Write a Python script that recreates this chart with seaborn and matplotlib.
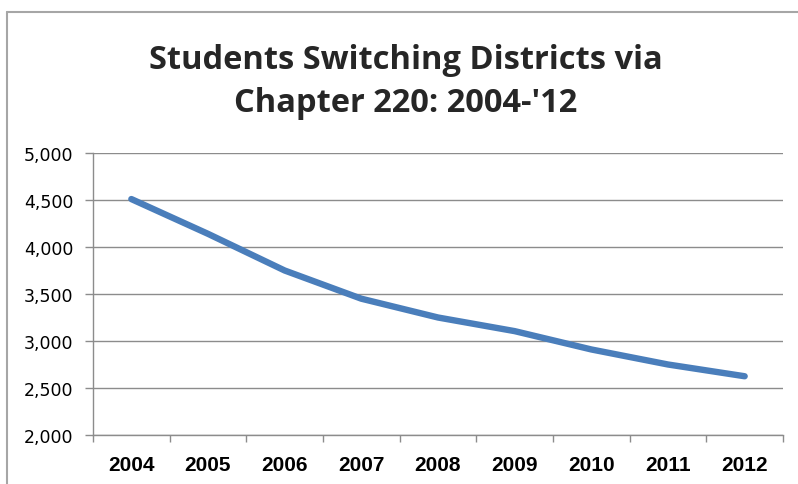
import matplotlib
matplotlib.use("Agg")
import matplotlib.pyplot as plt
from matplotlib.lines import Line2D
from matplotlib.ticker import FuncFormatter, FixedLocator, NullFormatter
import seaborn as sns
import pandas as pd

years = ["2004", "2005", "2006", "2007", "2008", "2009", "2010", "2011", "2012"]
students = [4510, 4140, 3750, 3450, 3250, 3105, 2910, 2750, 2625]
y_ticks = [2000, 2500, 3000, 3500, 4000, 4500, 5000]
title = "Students Switching Districts via\nChapter 220: 2004-'12"

df = pd.DataFrame({"year": years, "students": students})

sns.set_style("white")
plt.rcParams["font.family"] = ["Liberation Sans", "DejaVu Sans"]

fig = plt.figure(figsize=(7.98, 4.85), dpi=100)
ax = fig.add_axes([93 / 798, 1 - 436 / 485, (783 - 93) / 798, (436 - 154) / 485])

sns.lineplot(data=df, x="year", y="students", ax=ax, color="#4a7ebb",
             linewidth=4.6, solid_capstyle="round", solid_joinstyle="round",
             sort=False)

grid_col = "#8c8c8c"
ax.set_ylim(y_ticks[0], y_ticks[-1])
ax.set_yticks(y_ticks)
ax.yaxis.set_major_formatter(FuncFormatter(lambda v, p: f"{int(v):,}"))
ax.grid(axis="y", color=grid_col, linewidth=1.0)
ax.grid(axis="x", visible=False)

n = len(years)
ax.set_xlim(-0.5, n - 0.5)
ax.set_xticks(range(n))
ax.set_xticklabels(years)
ax.xaxis.set_minor_locator(FixedLocator([i - 0.5 for i in range(n + 1)]))
ax.xaxis.set_minor_formatter(NullFormatter())
ax.tick_params(axis="x", which="major", length=0, pad=14.5, labelsize=15,
               labelcolor="#000000")
ax.tick_params(axis="x", which="minor", length=5, width=1, color=grid_col,
               direction="out", bottom=True)
ax.tick_params(axis="y", which="major", length=5.8, width=1, color=grid_col,
               direction="out", left=True, pad=8.5, labelsize=12.5,
               labelcolor="#000000")
for lab in ax.get_xticklabels():
    lab.set_fontweight("bold")
for lab in ax.get_yticklabels():
    lab.set_family(["DejaVu Sans"])

ax.set_xlabel("")
ax.set_ylabel("")
for side in ("top", "right"):
    ax.spines[side].set_visible(False)
for side in ("left", "bottom"):
    ax.spines[side].set_color(grid_col)
    ax.spines[side].set_linewidth(1.0)

fig.text(0.508, 1 - 82 / 485, title, ha="center", va="center",
         fontsize=23.5, fontweight="bold", family=["Open Sans", "DejaVu Sans"],
         linespacing=1.4)

# outer chart frame (top and left edges)
frame_col = "#a6a6a6"
fig.add_artist(Line2D([7 / 798, 7 / 798], [0, 1 - 13 / 485],
                      color=frame_col, linewidth=1.5, transform=fig.transFigure))
fig.add_artist(Line2D([7 / 798, 1], [1 - 13 / 485, 1 - 13 / 485],
                      color=frame_col, linewidth=1.5, transform=fig.transFigure))

fig.savefig("out.png", dpi=100)
